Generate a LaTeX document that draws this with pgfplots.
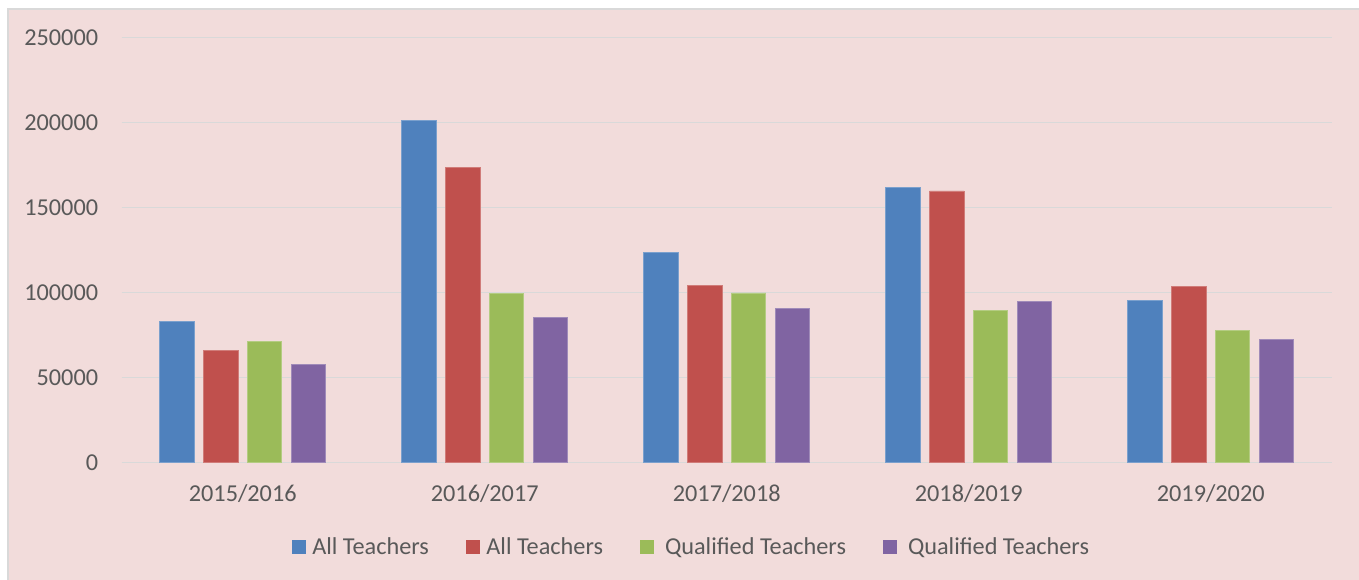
\documentclass[border=0pt]{standalone}
\usepackage{pgfplots}
\pgfplotsset{compat=1.18}
\usepackage{fontspec}
\setmainfont{Carlito}
\definecolor{bgpink}{HTML}{F2DCDB}
\definecolor{gridgray}{HTML}{D9D9D9}
\definecolor{txtgray}{HTML}{595959}
\definecolor{cblue}{HTML}{4F81BD}
\definecolor{cred}{HTML}{C0504D}
\definecolor{cgreen}{HTML}{9BBB59}
\definecolor{cpurple}{HTML}{8064A2}
\newcommand{\chartfont}{\fontsize{18.2pt}{21.5pt}\selectfont}
\begin{document}
\begin{tikzpicture}
\useasboundingbox (0,0) rectangle (1019.25pt,435pt);
\fill[white] (0,0) rectangle (1019.25pt,435pt);
\fill[bgpink] (6pt,0) rectangle (1019.25pt,428.25pt);
\draw[gridgray,line width=0.9pt] (6pt,0) -- (6pt,428.25pt) -- (1019.25pt,428.25pt);
\begin{axis}[
  at={(91.3pt,88pt)}, anchor=south west,
  scale only axis, width=907.5pt, height=318.75pt,
  ybar=7.05pt, bar width=25.8pt,
  xmin=-0.5, xmax=4.5, ymin=0, ymax=250000,
  xtick={0,1,2,3,4},
  xticklabels={2015/2016,2016/2017,2017/2018,2018/2019,2019/2020},
  ytick={0,50000,100000,150000,200000,250000},
  yticklabels={0,50000,100000,150000,200000,250000},
  scaled y ticks=false,
  major tick length=0pt,
  axis line style={draw=none},
  ymajorgrids, grid style={gridgray,line width=1.2pt},
  tick label style={font=\chartfont, text=txtgray, inner sep=0pt},
  yticklabel style={anchor=east, xshift=-17.5pt},
  xticklabel style={anchor=base, yshift=-29.5pt},
  legend style={draw=none, fill=none, inner sep=0pt, outer sep=0pt,
    at={(0.1405,-0.198)}, anchor=west, font=\chartfont, text=txtgray,
    legend columns=4,
    nodes={inner sep=0pt},
    /tikz/every odd column/.append style={column sep=4.9pt},
    /tikz/every even column/.append style={column sep=27.7pt}},
  legend image code/.code={\fill[#1,draw=none] (0pt,-5.25pt) rectangle (10.5pt,5.25pt);},
]
\addplot[fill=cblue, draw=cblue!75!white, line width=0.6pt] coordinates {(0,83200) (1,201400) (2,123500) (3,162000) (4,95500)};
\addplot[fill=cred, draw=cred!75!white, line width=0.6pt] coordinates {(0,66100) (1,173400) (2,104400) (3,159800) (4,103800)};
\addplot[fill=cgreen, draw=cgreen!75!white, line width=0.6pt] coordinates {(0,71400) (1,99700) (2,99800) (3,89600) (4,77900)};
\addplot[fill=cpurple, draw=cpurple!75!white, line width=0.6pt] coordinates {(0,57900) (1,85300) (2,90800) (3,94700) (4,72600)};
\legend{All Teachers, All Teachers, \hspace{3.4pt}Qualified Teachers, \hspace{3.4pt}Qualified Teachers}
\end{axis}
\end{tikzpicture}
\end{document}
